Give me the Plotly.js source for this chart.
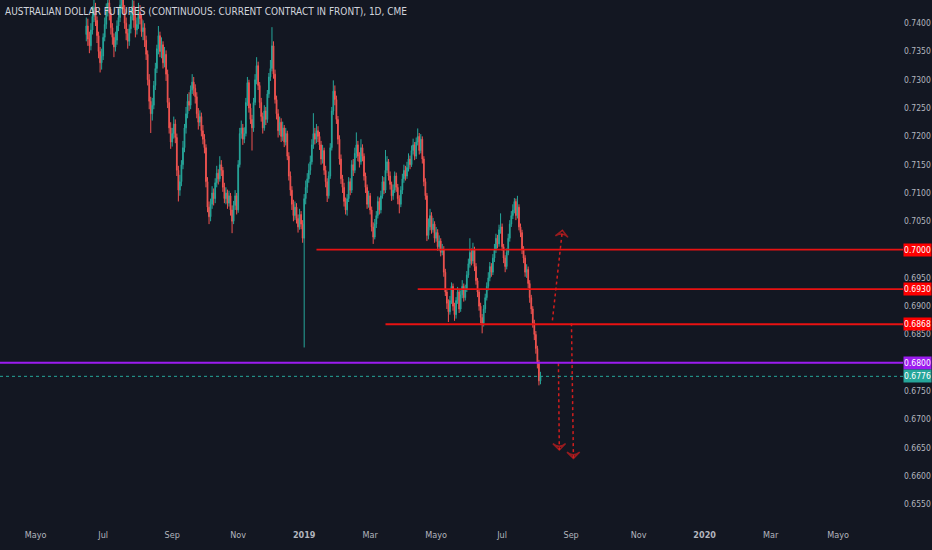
<!DOCTYPE html>
<html>
<head>
<meta charset="utf-8">
<script src="https://cdn.plot.ly/plotly-3.0.1.min.js"></script>
<style>
  html, body { margin: 0; padding: 0; background: #131722; }
  #chart { width: 932px; height: 550px; }
</style>
</head>
<body>
<div id="chart"></div>
<script>
// daily bars, first session Fri 2018-06-15, weekdays only
const firstSession = '2018-06-15';

const opens = [
  .7380,.7395,.7372,.7360,.7388, .7412,.7428,.7405,.7378,.7350,
  .7330,.7342,.7375,.7398,.7420, .7436,.7418,.7392,.7375,.7358,
  .7370,.7395,.7410,.7432,.7445, .7425,.7400,.7382,.7368,.7390,
  .7412,.7430,.7405,.7388,.7398, .7420,.7408,.7385,.7392,.7370,
  .7345,.7300,.7262,.7240,.7255, .7290,.7320,.7355,.7378,.7350,
  .7362,.7330,.7345,.7310,.7260, .7215,.7190,.7205,.7222,.7198,
  .7140,.7105,.7120,.7150,.7180, .7215,.7240,.7262,.7255,.7282,
  .7296,.7285,.7270,.7240,.7225, .7235,.7210,.7195,.7180,.7120,
  .7075,.7058,.7080,.7100,.7090, .7118,.7135,.7125,.7150,.7140,
  .7110,.7090,.7100,.7082,.7095, .7070,.7050,.7078,.7095,.7070,
  .7150,.7205,.7215,.7195,.7205, .7260,.7295,.7250,.7230,.7215,
  .7260,.7300,.7325,.7290,.7260, .7235,.7215,.7245,.7230,.7275,
  .7305,.7320,.7360,.7310,.7265, .7240,.7210,.7225,.7200,.7215,
  .7190,.7205,.7165,.7130,.7105, .7080,.7060,.7075,.7055,.7040,
  .7062,.7045,.7020,.7090,.7110, .7125,.7140,.7155,.7185,.7205,
  .7195,.7210,.7200,.7185,.7160, .7175,.7140,.7120,.7095,.7130,
  .7180,.7245,.7280,.7265,.7230, .7195,.7160,.7125,.7110,.7085,
  .7070,.7090,.7120,.7105,.7150, .7140,.7170,.7185,.7165,.7155,
  .7180,.7165,.7130,.7110,.7080, .7095,.7070,.7040,.7022,.7045,
  .7060,.7085,.7070,.7095,.7120, .7105,.7140,.7155,.7130,.7115,
  .7095,.7105,.7130,.7110,.7090, .7080,.7105,.7125,.7140,.7130,
  .7145,.7160,.7150,.7175,.7185, .7165,.7190,.7200,.7175,.7195,
  .7160,.7120,.7095,.7025,.7040, .7060,.7035,.7045,.7020,.7030,
  .7005,.7015,.6995,.7000,.6960, .6925,.6905,.6890,.6910,.6935,
  .6900,.6885,.6910,.6925,.6895, .6920,.6935,.6915,.6930,.6955,
  .6975,.6995,.6980,.7000,.6970, .6945,.6925,.6900,.6880,.6870,
  .6895,.6915,.6935,.6950,.6970, .6960,.6985,.7000,.7020,.7010,
  .7035,.7040,.7005,.6985,.6970, .6995,.7020,.7045,.7060,.7070,
  .7085,.7060,.7075,.7040,.7030, .7000,.6985,.6960,.6965,.6940,
  .6915,.6895,.6870,.6850,.6825, .6800,.6768
];

const highs = [
  .7410,.7408,.7385,.7400,.7430, .7448,.7436,.7412,.7385,.7358,
  .7355,.7382,.7410,.7435,.7455, .7448,.7425,.7400,.7382,.7385,
  .7405,.7425,.7450,.7460,.7458, .7432,.7410,.7390,.7398,.7425,
  .7448,.7440,.7415,.7410,.7436, .7432,.7415,.7405,.7400,.7378,
  .7352,.7310,.7270,.7268,.7298, .7330,.7362,.7395,.7385,.7375,
  .7368,.7358,.7352,.7318,.7268, .7225,.7215,.7235,.7230,.7205,
  .7148,.7132,.7158,.7192,.7222, .7252,.7275,.7278,.7290,.7310,
  .7305,.7292,.7278,.7250,.7246, .7242,.7220,.7204,.7186,.7128,
  .7085,.7090,.7112,.7108,.7126, .7148,.7142,.7165,.7158,.7146,
  .7118,.7110,.7106,.7104,.7100, .7078,.7086,.7105,.7100,.7158,
  .7215,.7228,.7222,.7216,.7268, .7305,.7300,.7258,.7238,.7268,
  .7310,.7340,.7332,.7296,.7268, .7242,.7255,.7252,.7282,.7312,
  .7335,.7393,.7368,.7318,.7272, .7248,.7235,.7232,.7226,.7220,
  .7215,.7210,.7172,.7138,.7112, .7088,.7085,.7082,.7062,.7072,
  .7068,.7052,.7098,.7122,.7135, .7152,.7166,.7195,.7241,.7215,
  .7222,.7218,.7208,.7192,.7185, .7180,.7148,.7126,.7138,.7188,
  .7252,.7299,.7290,.7272,.7236, .7202,.7168,.7132,.7118,.7092,
  .7098,.7128,.7126,.7158,.7160, .7180,.7207,.7192,.7172,.7195,
  .7186,.7170,.7136,.7115,.7104, .7100,.7076,.7048,.7054,.7068,
  .7094,.7092,.7104,.7130,.7128, .7176,.7165,.7160,.7138,.7120,
  .7115,.7138,.7136,.7116,.7096, .7112,.7134,.7150,.7148,.7155,
  .7170,.7166,.7184,.7196,.7190, .7198,.7214,.7206,.7204,.7200,
  .7165,.7126,.7100,.7055,.7072, .7066,.7056,.7050,.7040,.7036,
  .7025,.7020,.7010,.7006,.6966, .6930,.6912,.6918,.6942,.6940,
  .6906,.6916,.6934,.6930,.6928, .6946,.6940,.6938,.6962,.6984,
  .7020,.7002,.7012,.7005,.6976, .6950,.6930,.6906,.6886,.6902,
  .6922,.6942,.6960,.6978,.6976, .6992,.7010,.7028,.7026,.7044,
  .7064,.7046,.7010,.6990,.7002, .7028,.7052,.7068,.7080,.7091,
  .7090,.7095,.7080,.7046,.7035, .7006,.6990,.6974,.6970,.6946,
  .6920,.6900,.6876,.6856,.6830, .6805,.6784
];

const lows = [
  .7368,.7360,.7347,.7352,.7380, .7402,.7395,.7365,.7338,.7313,
  .7318,.7335,.7368,.7390,.7412, .7405,.7380,.7362,.7340,.7350,
  .7362,.7386,.7402,.7425,.7415, .7390,.7370,.7355,.7360,.7382,
  .7405,.7392,.7375,.7380,.7390, .7398,.7376,.7370,.7358,.7335,
  .7290,.7248,.7206,.7228,.7248, .7282,.7312,.7345,.7340,.7338,
  .7320,.7322,.7298,.7250,.7205, .7178,.7182,.7196,.7188,.7130,
  .7085,.7095,.7112,.7142,.7172, .7205,.7232,.7245,.7248,.7275,
  .7272,.7258,.7232,.7212,.7218, .7200,.7186,.7170,.7110,.7066,
  .7045,.7050,.7072,.7078,.7082, .7110,.7115,.7120,.7130,.7102,
  .7082,.7080,.7072,.7076,.7060, .7029,.7045,.7070,.7062,.7065,
  .7145,.7196,.7185,.7188,.7200, .7254,.7242,.7222,.7175,.7208,
  .7255,.7292,.7282,.7250,.7226, .7205,.7210,.7220,.7224,.7268,
  .7298,.7315,.7302,.7258,.7230, .7198,.7202,.7190,.7192,.7181,
  .7184,.7158,.7122,.7095,.7070, .7050,.7052,.7046,.7030,.7035,
  .7036,.7012,.6827,.7080,.7100, .7118,.7132,.7150,.7178,.7186,
  .7188,.7190,.7176,.7150,.7152, .7132,.7110,.7084,.7090,.7125,
  .7175,.7238,.7255,.7222,.7186, .7150,.7116,.7100,.7076,.7062,
  .7060,.7084,.7096,.7100,.7130, .7135,.7162,.7156,.7145,.7150,
  .7156,.7122,.7100,.7072,.7074, .7062,.7032,.7010,.7018,.7038,
  .7055,.7062,.7064,.7090,.7098, .7100,.7135,.7122,.7106,.7086,
  .7088,.7100,.7102,.7080,.7064, .7075,.7098,.7118,.7122,.7125,
  .7138,.7142,.7146,.7168,.7158, .7160,.7184,.7168,.7170,.7152,
  .7112,.7088,.7015,.7018,.7034, .7028,.7030,.7012,.7014,.6998,
  .6998,.6988,.6990,.6952,.6918, .6895,.6872,.6885,.6904,.6892,
  .6874,.6878,.6904,.6888,.6890, .6914,.6908,.6910,.6925,.6950,
  .6968,.6972,.6975,.6962,.6938, .6916,.6892,.6870,.6852,.6864,
  .6888,.6910,.6928,.6944,.6952, .6955,.6978,.6994,.7002,.7005,
  .7028,.6998,.6976,.6960,.6965, .6990,.7014,.7040,.7054,.7064,
  .7052,.7055,.7034,.7022,.6992, .6976,.6952,.6950,.6932,.6906,
  .6886,.6862,.6840,.6816,.6790, .6760,.6762
];

const closes = [
  .7395,.7372,.7360,.7388,.7412, .7428,.7405,.7378,.7350,.7330,
  .7342,.7375,.7398,.7420,.7436, .7418,.7392,.7375,.7358,.7370,
  .7395,.7410,.7432,.7445,.7425, .7400,.7382,.7368,.7390,.7412,
  .7430,.7405,.7388,.7398,.7420, .7408,.7385,.7392,.7370,.7345,
  .7300,.7262,.7240,.7255,.7290, .7320,.7355,.7378,.7350,.7362,
  .7330,.7345,.7310,.7260,.7215, .7190,.7205,.7222,.7198,.7140,
  .7105,.7120,.7150,.7180,.7215, .7240,.7262,.7255,.7282,.7296,
  .7285,.7270,.7240,.7225,.7235, .7210,.7195,.7180,.7120,.7075,
  .7058,.7080,.7100,.7090,.7118, .7135,.7125,.7150,.7140,.7110,
  .7090,.7100,.7082,.7095,.7070, .7050,.7078,.7095,.7070,.7150,
  .7205,.7215,.7195,.7205,.7260, .7295,.7250,.7230,.7215,.7260,
  .7300,.7325,.7290,.7260,.7235, .7215,.7245,.7230,.7275,.7305,
  .7320,.7360,.7310,.7265,.7240, .7210,.7225,.7200,.7215,.7190,
  .7205,.7165,.7130,.7105,.7080, .7060,.7075,.7055,.7040,.7062,
  .7045,.7020,.7090,.7110,.7125, .7140,.7155,.7185,.7205,.7195,
  .7210,.7200,.7185,.7160,.7175, .7140,.7120,.7095,.7130,.7180,
  .7245,.7280,.7265,.7230,.7195, .7160,.7125,.7110,.7085,.7070,
  .7090,.7120,.7105,.7150,.7140, .7170,.7185,.7165,.7155,.7180,
  .7165,.7130,.7110,.7080,.7095, .7070,.7040,.7022,.7045,.7060,
  .7085,.7070,.7095,.7120,.7105, .7140,.7155,.7130,.7115,.7095,
  .7105,.7130,.7110,.7090,.7080, .7105,.7125,.7140,.7130,.7145,
  .7160,.7150,.7175,.7185,.7165, .7190,.7200,.7175,.7195,.7160,
  .7120,.7095,.7025,.7040,.7060, .7035,.7045,.7020,.7030,.7005,
  .7015,.6995,.7000,.6960,.6925, .6905,.6890,.6910,.6935,.6900,
  .6885,.6910,.6925,.6895,.6920, .6935,.6915,.6930,.6955,.6975,
  .6995,.6980,.7000,.6970,.6945, .6925,.6900,.6880,.6870,.6895,
  .6915,.6935,.6950,.6970,.6960, .6985,.7000,.7020,.7010,.7035,
  .7040,.7005,.6985,.6970,.6995, .7020,.7045,.7060,.7070,.7085,
  .7060,.7075,.7040,.7030,.7000, .6985,.6960,.6965,.6940,.6915,
  .6895,.6870,.6850,.6825,.6800, .6768,.6776
];

// drawn horizontal rays (red)
const rayPrices = [0.7000, 0.6930, 0.6868];
const rayStarts = ['2019-01-11', '2019-04-15', '2019-03-15'];
// full width lines
const markPrice = 0.6800;
const lastPrice = 0.6776;

// dotted projection arrows
const arrowFrom = [['2019-08-14 19:00', 0.6875], ['2019-08-20 17:00', 0.6799], ['2019-09-02 05:00', 0.6870]];
const arrowTo   = [['2019-08-23 07:00', 0.7034], ['2019-08-21 07:00', 0.6646], ['2019-09-03 12:00', 0.6631]];

const tickDates = ['2018-05-01','2018-07-02','2018-09-03','2018-11-01','2019-01-01','2019-03-01',
                   '2019-05-01','2019-07-01','2019-09-02','2019-11-01','2020-01-01','2020-03-02','2020-05-01'];
const tickNames = ['Mayo','Jul','Sep','Nov','2019','Mar','Mayo','Jul','Sep','Nov','2020','Mar','Mayo'];
const priceTicks = [0.7400,0.7350,0.7300,0.7250,0.7200,0.7150,0.7100,0.7050,0.6950,0.6900,
                    0.6850,0.6750,0.6700,0.6650,0.6600,0.6550];

const UP = '#26a69a', DOWN = '#ef5350', RED = '#e81212', VIOLET = '#9c1cf0';
const FONT = '"DejaVu Sans Condensed", "DejaVu Sans", sans-serif';

function sessionDates(start, n) {
    const out = [];
    const d = new Date(start + 'T00:00:00Z');
    while (out.length < n) {
        const wd = d.getUTCDay();
        if (wd !== 0 && wd !== 6) out.push(d.toISOString().slice(0, 10));
        d.setUTCDate(d.getUTCDate() + 1);
    }
    return out;
}

const dates = sessionDates(firstSession, closes.length);

const traces = [{
    type: 'candlestick',
    x: dates, open: opens, high: highs, low: lows, close: closes,
    increasing: { line: { color: UP, width: 1 }, fillcolor: UP },
    decreasing: { line: { color: DOWN, width: 1 }, fillcolor: DOWN },
    whiskerwidth: 0,
    hoverinfo: 'none',
    showlegend: false
}];

arrowFrom.forEach((p, i) => {
    traces.push({
        type: 'scatter', mode: 'lines+markers',
        x: [p[0], arrowTo[i][0]], y: [p[1], arrowTo[i][1]],
        line: { color: '#d21e1e', width: 1.5, dash: 'dot' },
        marker: { symbol: 'arrow-wide-open', size: [0, 9], angleref: 'previous',
                  color: '#d21e1e', line: { color: '#d21e1e', width: 1.5 } },
        hoverinfo: 'none', showlegend: false
    });
});

const shapes = rayPrices.map((p, i) => ({
    type: 'line', xref: 'x', yref: 'y', layer: 'above',
    x0: rayStarts[i], x1: '2020-07-31', y0: p, y1: p,
    line: { color: RED, width: 1.8 }
}));
shapes.push({
    type: 'line', xref: 'paper', yref: 'y', x0: 0, x1: 1, y0: markPrice, y1: markPrice,
    line: { color: VIOLET, width: 2 }
});
shapes.push({
    type: 'line', xref: 'paper', yref: 'y', x0: 0, x1: 1, y0: lastPrice, y1: lastPrice,
    line: { color: UP, width: 1, dash: 'dot' }
});

const axisTag = (price, bg) => ({
    xref: 'paper', yref: 'y', x: 1, y: price, xanchor: 'left', yanchor: 'middle',
    text: price.toFixed(4), showarrow: false, bgcolor: bg, borderpad: 0,
    width: 27, height: 12, align: 'center',
    font: { family: FONT, size: 8.5, color: '#ffffff' }
});

const annotations = rayPrices.map(p => axisTag(p, '#ff0000'));
annotations.push(axisTag(markPrice, VIOLET));
annotations.push(axisTag(lastPrice, UP));
annotations.push({
    xref: 'paper', yref: 'paper', x: 0, y: 1, xanchor: 'left', yanchor: 'top',
    xshift: 3, yshift: -4, showarrow: false,
    text: 'AUSTRALIAN DOLLAR FUTURES (CONTINUOUS: CURRENT CONTRACT IN FRONT), 1D, CME',
    font: { family: FONT, size: 10, color: '#d1d4dc' }
});

const layout = {
    width: 932, height: 550,
    margin: { l: 0, r: 29, t: 0, b: 22 },
    paper_bgcolor: '#131722',
    plot_bgcolor: '#131722',
    showlegend: false,
    dragmode: false,
    xaxis: {
        type: 'date',
        range: ['2018-03-28 18:00', '2020-06-30 07:00'],
        rangebreaks: [{ bounds: ['sat', 'mon'] }],
        rangeslider: { visible: false },
        tickvals: tickDates,
        ticktext: tickNames.map(t => /^\d{4}$/.test(t) ? '<b>' + t + '</b>' : t),
        tickfont: { family: FONT, size: 9, color: '#b2b5be' },
        showgrid: false, zeroline: false, showline: false, ticks: ''
    },
    yaxis: {
        side: 'right',
        range: [0.6508, 0.7441],
        tickvals: priceTicks,
        tickformat: '.4f',
        tickfont: { family: FONT, size: 8.5, color: '#b2b5be' },
        showgrid: false, zeroline: false, showline: false, ticks: ''
    },
    shapes: shapes,
    annotations: annotations
};

Plotly.newPlot('chart', traces, layout, { displayModeBar: false, staticPlot: true });
</script>
</body>
</html>
